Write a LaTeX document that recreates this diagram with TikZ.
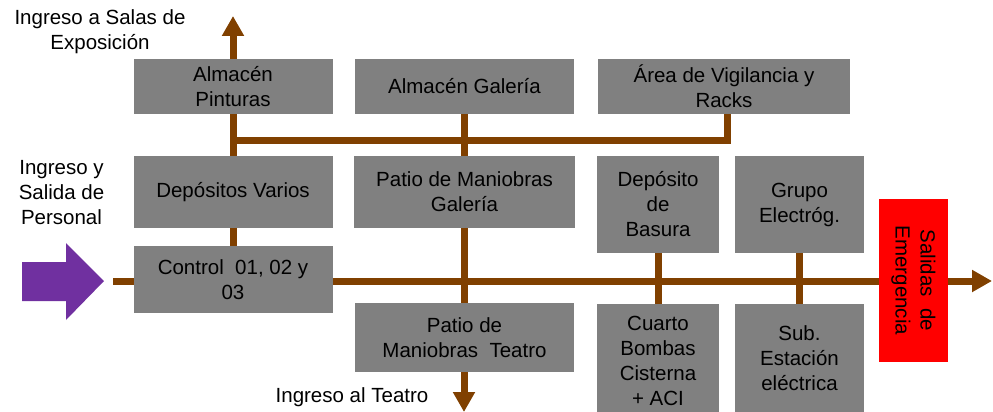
\documentclass[tikz,border=0pt]{standalone}
\usepackage{fontspec}
\setmainfont{Liberation Sans}
\usepackage{xcolor}
\usepackage{tikz}
\usetikzlibrary{arrows.meta, positioning, calc}

\definecolor{boxgray}{RGB}{128,128,128}
\definecolor{pipebrown}{RGB}{128,64,0}
\definecolor{entrypurple}{RGB}{112,48,160}
\definecolor{exitred}{RGB}{255,0,0}

\begin{document}
\begin{tikzpicture}[
  x=1pt, y=-1pt,
  font=\fontsize{20.5}{25}\selectfont,
  >={Triangle[length=20pt,width=21pt]},
  roombox/.style={rectangle, fill=boxgray, inner sep=2pt, align=center,
        text=black},
  exitbox/.style={rectangle, fill=exitred, inner sep=2pt, align=center,
        rotate=-90, minimum width=163pt, minimum height=69pt},
  lbl/.style={align=center, text=black, inner sep=0pt},
  pipe/.style={pipebrown, line width=7pt},
  pipeOut/.style={pipe, ->},
]
\useasboundingbox (0,0) rectangle (993,412);

% --- free ends of the circulation lines ---
\coordinate (persIn)    at (113,281);
\coordinate (emerOut)   at (992,281);
\coordinate (salasOut)  at (233,16);
\coordinate (teatroOut) at (464,412);
\coordinate (hubL)      at (233,140);
\coordinate (vigDrop)   at (727,114);

% --- circulation lines (drawn under the rooms) ---
\draw[pipeOut] (persIn) -- (emerOut);
\draw[pipeOut] (233,281) -- (salasOut);
\draw[pipe] (hubL) -| (vigDrop);
\draw[pipeOut] (464,114) -- (teatroOut);
\draw[pipe] (658,253) -- (658,304);
\draw[pipe] (799,253) -- (799,304);

% --- Row 1: storage ---
\node[roombox, minimum width=199pt, minimum height=55pt] (almPint) at (233,86.5)
        {Almac\'en\\Pinturas};
\node[roombox, minimum width=219pt, minimum height=55pt] (almGal) at (464.5,86.5)
        {Almac\'en Galer\'ia};
\node[roombox, minimum width=252pt, minimum height=55pt] (areaVig) at (724,86.5)
        {\'Area de Vigilancia y\\Racks};

% --- Row 2: deposits and yards ---
\node[roombox, minimum width=199pt, minimum height=72pt] (depVar) at (233,192)
        {Dep\'ositos Varios};
\node[roombox, minimum width=221pt, minimum height=72pt] (patioGal) at (464.5,192)
        {Patio de Maniobras\\Galer\'ia};
\node[roombox, minimum width=122pt, minimum height=97pt] (depBas) at (658,204.5)
        {Dep\'osito\\de\\Basura};
\node[roombox, minimum width=129pt, minimum height=97pt] (grupo) at (799.5,204.5)
        {Grupo\\Electr\'og.};

% --- Row 3: control and services ---
\node[roombox, minimum width=199pt, minimum height=67pt] (control) at (233,279.5)
        {Control \ 01, 02 y\\03};
\node[roombox, minimum width=219pt, minimum height=69pt] (patioTea) at (464.5,337.5)
        {Patio de\\Maniobras \ Teatro};
\node[roombox, minimum width=122pt, minimum height=114pt] (cuarto) at (658,361)
        {Cuarto\\Bombas\\Cisterna\\+ ACI};
\node[roombox, minimum width=129pt, minimum height=108pt] (subEst) at (799.5,358)
        {Sub.\\Estaci\'on\\el\'ectrica};

% --- Emergency exit ---
\node[exitbox] (emer) at (913.5,280.5) {Salidas \ de\\Emergencia};

% --- Staff entry arrow ---
\fill[entrypurple] (22,262) -- (66,262) -- (66,243) -- (104,281)
   -- (66,320) -- (66,301) -- (22,301) -- cycle;

% --- labels ---
\node[lbl] (salasLbl) at (100,31.5) {Ingreso a Salas de\\Exposici\'on};
\node[lbl] (persLbl) at (61.5,193) {Ingreso y\\Salida de\\Personal};
\node[lbl] (teatroLbl) at (352,397) {Ingreso al Teatro};

\end{tikzpicture}
\end{document}
